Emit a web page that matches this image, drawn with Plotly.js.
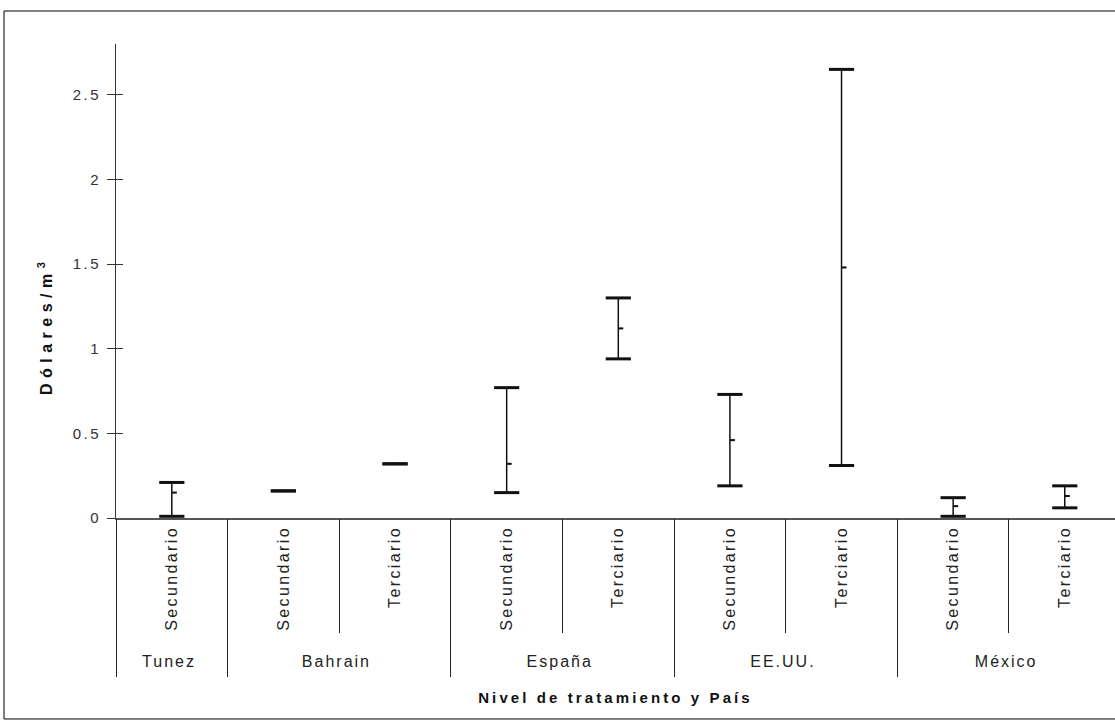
<!DOCTYPE html>
<html>
<head>
<meta charset="utf-8">
<script src="https://cdn.plot.ly/plotly-3.0.1.min.js"></script>
<style>
  html, body { margin: 0; padding: 0; background: #fff; }
  #chart { width: 1115px; height: 724px; }
  .xtick text { letter-spacing: 2.4px; }
  .ytick text { letter-spacing: 2.5px; }
  .xtick2 text { letter-spacing: 2px; translate: 0 5px; }
  path.xdivider { transform-box: fill-box; transform-origin: top; scale: 1 1.045; }
  .g-xtitle text { letter-spacing: 3.1px; }
  .annotation-text { letter-spacing: 5.5px; }
</style>
</head>
<body>
<div id="chart"></div>
<script>
// Data (Dólares/m3)
const countries = ['Tunez', 'Bahrain', 'Bahrain', 'España', 'España', 'EE.UU.', 'EE.UU.', 'México', 'México'];
const levels = ['Secundario', 'Secundario', 'Terciario', 'Secundario', 'Terciario', 'Secundario', 'Terciario', 'Secundario', 'Terciario'];
const highVals = [0.21, 0.16, 0.32, 0.77, 1.30, 0.73, 2.65, 0.12, 0.19];
const lowVals  = [0.01, 0.16, 0.32, 0.15, 0.94, 0.19, 0.31, 0.01, 0.06];
const meanVals = [0.15, 0.16, 0.32, 0.32, 1.12, 0.46, 1.48, 0.07, 0.13];

const xcat = [countries, levels];
const ink = '#111';
// category boundaries (between neighbouring categories) for the long separator ticks
const boundaries = [-0.5].concat(levels.map((_, i) => i + 0.5));

const stems = {
  type: 'scatter', mode: 'markers', x: xcat, y: meanVals,
  marker: { size: 1, opacity: 0 },
  error_y: {
    type: 'data', symmetric: false,
    array: highVals.map((h, i) => h - meanVals[i]),
    arrayminus: meanVals.map((m, i) => m - lowVals[i]),
    width: 0, thickness: 1.5, color: ink
  },
  hoverinfo: 'skip', showlegend: false
};
const capsHigh = {
  type: 'scatter', mode: 'markers', x: xcat, y: highVals,
  marker: { symbol: 'line-ew', size: 18, line: { width: 3, color: ink } },
  showlegend: false, hoverinfo: 'skip'
};
const capsLow = {
  type: 'scatter', mode: 'markers', x: xcat, y: lowVals,
  marker: { symbol: 'line-ew', size: 18, line: { width: 3, color: ink } },
  showlegend: false, hoverinfo: 'skip'
};
const meanTicks = {
  type: 'bar', x: xcat,
  base: meanVals.map(v => v - 0.006),
  y: meanVals.map(() => 0.012),
  offset: 0, width: 0.045,
  marker: { color: ink, line: { width: 0 } },
  showlegend: false, hoverinfo: 'skip'
};
// empty helper trace so the overlay axes (separator ticks / inner y ticks) are drawn
const helper = { type: 'scatter', x: [], y: [], xaxis: 'x2', yaxis: 'y2', showlegend: false, hoverinfo: 'skip' };

const layout = {
  width: 1115, height: 724,
  margin: { l: 116, r: 0, t: 44, b: 206 },
  paper_bgcolor: '#fff', plot_bgcolor: '#fff',
  font: { family: '"Liberation Sans", Arial, sans-serif', color: '#222', size: 15 },
  showlegend: false,
  xaxis: {
    type: 'multicategory',
    range: [-0.5, 8.45],
    showline: true, linecolor: '#555', linewidth: 1.5,
    ticks: '',
    ticklabelstandoff: 0,
    tickangle: -90,
    showdividers: true, dividercolor: '#222', dividerwidth: 1,
    tickfont: { size: 16, color: '#222' },
    showgrid: false, zeroline: false,
    title: { text: '<b>Nivel de tratamiento y País</b>', font: { size: 15, color: '#111' }, standoff: 24 },
    fixedrange: true
  },
  xaxis2: {
    overlaying: 'x', anchor: 'y', side: 'bottom',
    range: [-0.5, 8.45],
    tickmode: 'array', tickvals: boundaries, showticklabels: false,
    ticks: 'outside', ticklen: 114, tickcolor: '#222', tickwidth: 1,
    showline: false, showgrid: false, zeroline: false, fixedrange: true
  },
  yaxis: {
    range: [0, 2.8], dtick: 0.5, tick0: 0,
    showline: true, linecolor: '#333', linewidth: 1,
    ticks: 'outside', ticklen: 8, tickcolor: '#333',
    ticklabelstandoff: 3,
    tickfont: { size: 15, color: '#333' },
    showgrid: false, zeroline: false,
    fixedrange: true
  },
  yaxis2: {
    overlaying: 'y', anchor: 'x', side: 'left',
    range: [0, 2.8], dtick: 0.5, tick0: 0,
    ticks: 'inside', ticklen: 7, tickcolor: '#333', showticklabels: false,
    showline: false, showgrid: false, zeroline: false, fixedrange: true
  },
  annotations: [{
    text: '<b>Dólares/m<sup>3</sup></b>',
    xref: 'paper', yref: 'paper',
    x: -0.071, y: 0.405, xanchor: 'center', yanchor: 'middle',
    textangle: -90, showarrow: false,
    font: { size: 16, color: '#111' }
  }],
  shapes: [{
    type: 'rect', xref: 'paper', yref: 'paper',
    x0: -0.1121, x1: 1.05, y0: -0.424, y1: 1.0696,
    line: { color: '#000', width: 1 }, fillcolor: 'rgba(0,0,0,0)', layer: 'below'
  }]
};

Plotly.newPlot('chart', [stems, meanTicks, capsHigh, capsLow, helper], layout, { staticPlot: true, displayModeBar: false });
</script>
</body>
</html>
